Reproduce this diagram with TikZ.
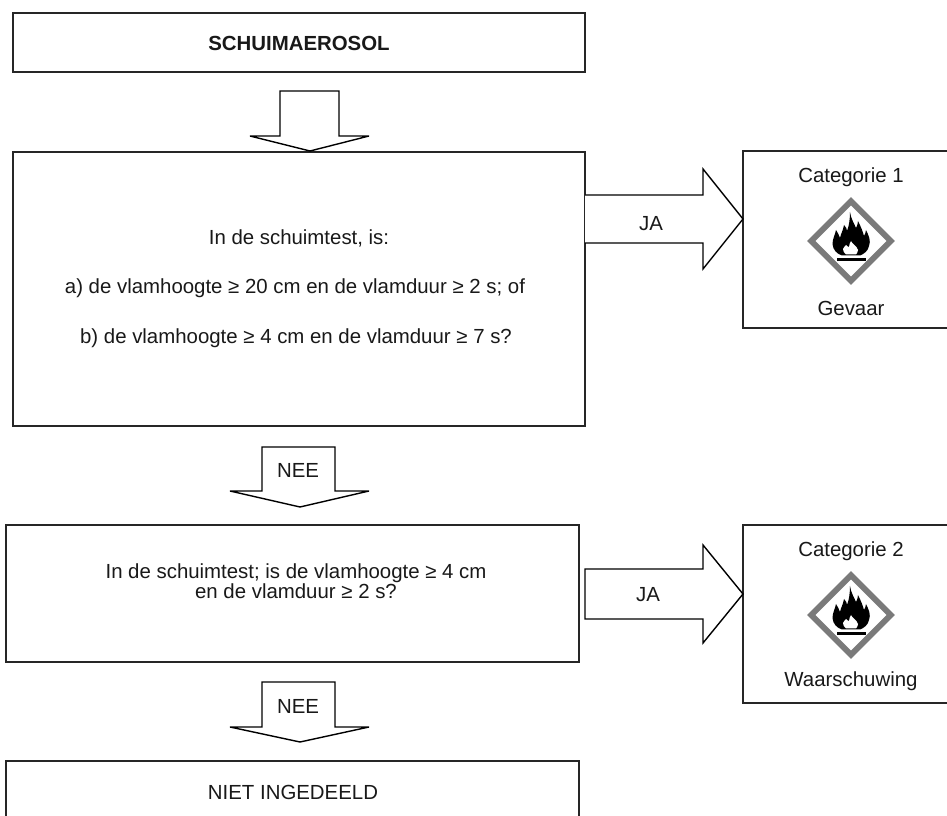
\documentclass[tikz,border=0pt]{standalone}
\usepackage{fontspec}
\setmainfont{Liberation Sans}
\tikzset{
  x=0.75pt,y=-0.75pt,
  lbl/.style={font=\fontsize{15.3}{15}\selectfont,inner sep=0pt,align=center,text=black!90},
  box/.style={draw=black!85,line width=1.1pt,fill=white},
  blockarrow/.style={draw=black,line width=1.05pt,fill=white,line join=miter,miter limit=4},
  ghs/.pic={
    \draw[draw=black!52,line width=4.4pt,fill=white,line join=miter] (0,-39.8)--(39.8,0)--(0,39.8)--(-39.8,0)--cycle;
    \fill[black] (-1,-29) .. controls (0,-22) and (3,-18) .. (5,-13)
      .. controls (6,-15) and (7,-17) .. (7,-20)
      .. controls (10,-14) and (12,-9) .. (13,-5)
      .. controls (14,-7) and (15,-9) .. (15,-11)
      .. controls (18,-5) and (20,0) .. (18,5)
      .. controls (17,10) and (13,13) .. (9,14.5) -- (-9,14.5)
      .. controls (-14,13) and (-18,9) .. (-18.5,3)
      .. controls (-18.5,-2) and (-16,-6) .. (-15,-11)
      .. controls (-13,-8) and (-12,-6) .. (-11,-3)
      .. controls (-10,-8) and (-8,-10) .. (-7,-16)
      .. controls (-5,-14) and (-4,-12) .. (-4,-10)
      .. controls (-2,-15) and (-1,-22) .. (-1,-29) -- cycle;
    \fill[white] (0,0) .. controls (1,3) and (6,5) .. (7,9)
      .. controls (7,11) and (6,12) .. (5,13.5) -- (-5,13.5)
      .. controls (-7,12) and (-8,10) .. (-8,8)
      .. controls (-7,6) and (-6,5) .. (-5,4)
      .. controls (-4,5) and (-3,6) .. (-2,6)
      .. controls (-2,4) and (-1,2) .. (0,0) -- cycle;
    \fill[black] (-14.5,17) rectangle (14.5,20.5);
  }
}
\begin{document}
\begin{tikzpicture}
\useasboundingbox (0,0) rectangle (947,816);
\clip (0,0) rectangle (947,816);
% boxes
\path[box] (13,13) rectangle (585,72);
\node[lbl] (top) at (299,43) {\bfseries SCHUIMAEROSOL};
\path[box] (13,152) rectangle (585,426);
\node[lbl] (q1a) at (299,238) {In de schuimtest, is:};
\node[lbl] (q1b) at (295,288) {a) de vlamhoogte ≥ 20 cm en de vlamduur ≥ 2 s; of};
\node[lbl] (q1c) at (296,338) {b) de vlamhoogte ≥ 4 cm en de vlamduur ≥ 7 s?};
\path[box] (6,525) rectangle (579,662);
\node[lbl] (q2) at (296,581) {In de schuimtest; is de vlamhoogte ≥ 4 cm\\en de vlamduur ≥ 2 s?};
\path[box] (6,761) rectangle (579,830);
\node[lbl] (none) at (293,792) {NIET INGEDEELD};
\path[box] (743,151) rectangle (960,328);
\node[lbl] (c1) at (851,177) {Categorie 1};
\node[lbl] (g1) at (851,308) {Gevaar};
\path[box] (743,525) rectangle (960,703);
\node[lbl] (c2) at (851,551) {Categorie 2};
\node[lbl] (g2) at (851,681) {Waarschuwing};
\pic at (851,241) {ghs};
\pic at (851,615) {ghs};
% block arrows
\draw[blockarrow] (280,136)--(280,91)--(339,91)--(339,136)--(369,136)--(310,151)--(250,136)--cycle;
\draw[blockarrow] (262,491)--(262,447)--(335,447)--(335,491)--(369,491)--(300,507)--(230,491)--cycle;
\node[lbl] (n1) at (298,470) {NEE};
\draw[blockarrow] (262,727)--(262,682)--(335,682)--(335,727)--(369,727)--(300,742)--(230,727)--cycle;
\node[lbl] (n2) at (298,706) {NEE};
\draw[blockarrow] (585,195)--(703,195)--(703,169)--(743,219)--(703,269)--(703,243)--(585,243);
\node[lbl] (j1) at (651,224) {JA};
\draw[blockarrow] (585,569)--(703,569)--(703,545)--(743,594)--(703,643)--(703,619)--(585,619)--cycle;
\node[lbl] (j2) at (648,595) {JA};
\end{tikzpicture}
\end{document}
